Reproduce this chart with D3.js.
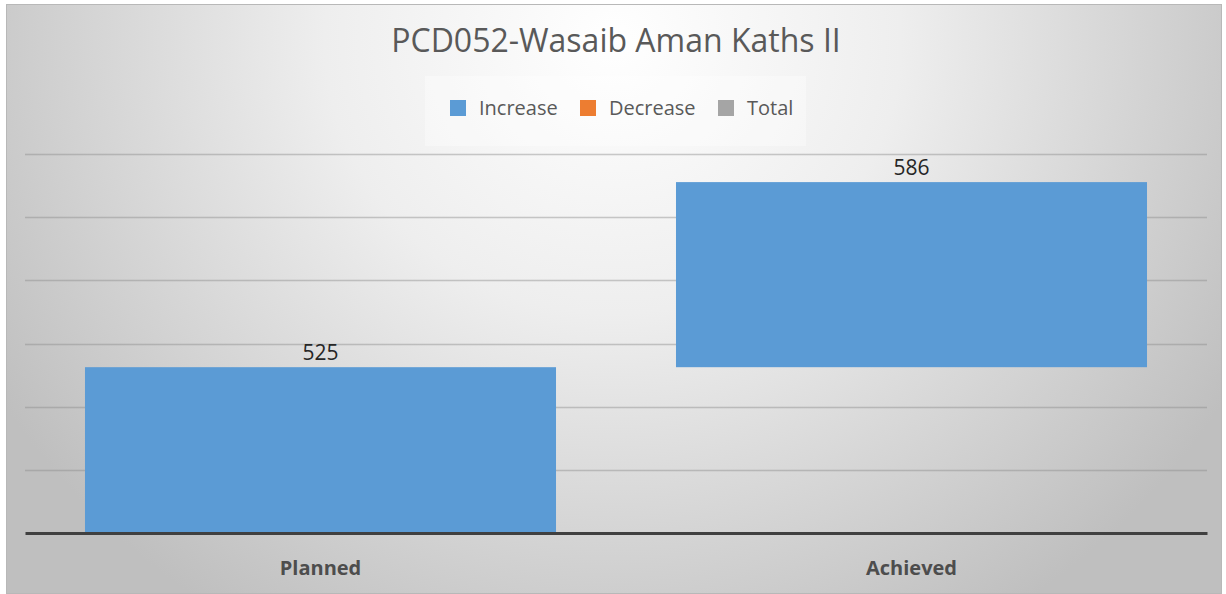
<!DOCTYPE html>
<html>
<head>
<meta charset="utf-8">
<script src="https://cdn.jsdelivr.net/npm/d3@7"></script>
<style>
  html, body { margin: 0; padding: 0; background: #fff; }
  svg { display: block; font-family: "Open Sans", "Noto Sans", sans-serif; }
</style>
</head>
<body>
<div id="vis"></div>
<script>
// chart data
var title = 'PCD052-Wasaib Aman Kaths II';
var categories = ['Planned', 'Achieved'];
var values = [525, 586];
var kinds = ['Increase', 'Increase'];
var legendNames = ['Increase', 'Decrease', 'Total'];
var legendColors = ['#5b9bd5', '#ed7d31', '#a5a5a5'];
var gridTicks = [0, 200, 400, 600, 800, 1000, 1200];

var width = 1226;
var height = 594;
var plot = { left: 25, right: 1207, top: 154, bottom: 533 };

var svg = d3.select('#vis').append('svg')
  .attr('width', width)
  .attr('height', height);

// background gradient like the office chart style
var defs = svg.append('defs');
var grad = defs.append('radialGradient')
  .attr('id', 'bg')
  .attr('gradientUnits', 'userSpaceOnUse')
  .attr('cx', 613).attr('cy', 40)
  .attr('r', 720)
  .attr('gradientTransform', 'translate(613,40) scale(1,0.95) translate(-613,-40)');
grad.append('stop').attr('offset', '0%').attr('stop-color', '#ffffff');
grad.append('stop').attr('offset', '40%').attr('stop-color', '#eeeeee');
grad.append('stop').attr('offset', '100%').attr('stop-color', '#bfbfbf');

svg.append('rect')
  .attr('x', 6.5).attr('y', 4.5)
  .attr('width', 1215).attr('height', 589)
  .attr('fill', 'url(#bg)')
  .attr('stroke', '#b8b8b8')
  .attr('stroke-width', 1);

// waterfall: each bar starts where the last one ended
var running = 0;
var bars = categories.map(function (c, i) {
  var start = running;
  running += kinds[i] === 'Decrease' ? -values[i] : values[i];
  return { name: c, value: values[i], kind: kinds[i], start: start, end: running };
});

var x = d3.scaleBand()
  .domain(categories)
  .range([plot.left, plot.right])
  .paddingInner(0.203)
  .paddingOuter(0.1015);

var y = d3.scaleLinear()
  .domain([0, 1200])
  .range([plot.bottom, plot.top]);

// gridlines
svg.append('g').attr('class', 'grid')
  .selectAll('line')
  .data(gridTicks.slice(1))
  .join('line')
  .attr('x1', plot.left).attr('x2', plot.right)
  .attr('y1', function (d) { return Math.round(y(d)) + 0.5; })
  .attr('y2', function (d) { return Math.round(y(d)) + 0.5; })
  .attr('stroke', '#8c8c8c')
  .attr('stroke-opacity', 0.45)
  .attr('stroke-width', 1.5);

// bars
var color = d3.scaleOrdinal().domain(legendNames).range(legendColors);
svg.append('g').attr('class', 'bars')
  .selectAll('rect')
  .data(bars)
  .join('rect')
  .attr('x', function (d) { return x(d.name); })
  .attr('width', x.bandwidth())
  .attr('y', function (d) { return y(Math.max(d.start, d.end)); })
  .attr('height', function (d) { return Math.abs(y(d.start) - y(d.end)); })
  .attr('fill', function (d) { return color(d.kind); });

// value labels
svg.append('g').attr('class', 'labels')
  .selectAll('text')
  .data(bars)
  .join('text')
  .attr('x', function (d) { return x(d.name) + x.bandwidth() / 2; })
  .attr('y', function (d) { return y(Math.max(d.start, d.end)) - 7; })
  .attr('text-anchor', 'middle')
  .attr('font-size', 21)
  .attr('fill', '#262626')
  .text(function (d) { return d.value; });

// baseline axis
var xAxis = svg.append('g')
  .attr('transform', 'translate(0,' + y(0) + ')')
  .call(d3.axisBottom(x).tickSize(0).tickPadding(28));
xAxis.select('.domain')
  .attr('stroke', '#404040')
  .attr('stroke-width', 3);
xAxis.selectAll('text')
  .attr('font-family', '"Open Sans", sans-serif')
  .attr('font-size', 20)
  .attr('font-weight', 'bold')
  .attr('fill', '#4d4d4d');

// title
svg.append('text')
  .attr('x', 616)
  .attr('y', 52)
  .attr('text-anchor', 'middle')
  .attr('font-size', 32)
  .attr('fill', '#595959')
  .text(title);

// legend
var legend = svg.append('g').attr('class', 'legend');
legend.append('rect')
  .attr('x', 425).attr('y', 76)
  .attr('width', 381).attr('height', 70)
  .attr('fill', '#ffffff')
  .attr('fill-opacity', 0.35);

var legendX = [450, 580, 718];
var item = legend.selectAll('g.item')
  .data(legendNames)
  .join('g')
  .attr('class', 'item')
  .attr('transform', function (d, i) { return 'translate(' + legendX[i] + ',100)'; });
item.append('rect')
  .attr('width', 16).attr('height', 16)
  .attr('fill', function (d) { return color(d); });
item.append('text')
  .attr('x', 29).attr('y', 15)
  .attr('font-size', 20)
  .attr('fill', '#595959')
  .text(function (d) { return d; });
</script>
</body>
</html>
